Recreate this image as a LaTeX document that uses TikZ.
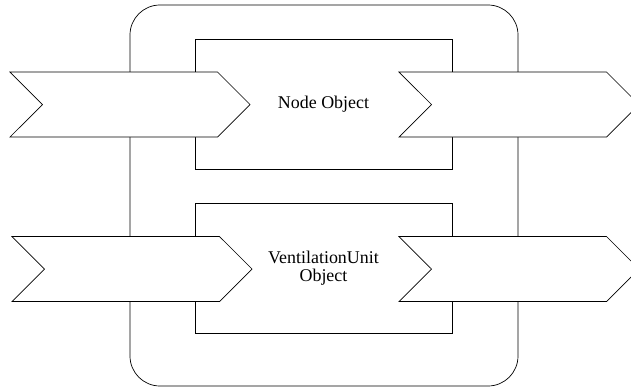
\documentclass[tikz,border=0pt]{standalone}
\usepackage{fontspec}
\setmainfont{Liberation Serif}
\usetikzlibrary{shapes.symbols}

\tikzset{
  holder/.style={draw, rounded corners=6mm, minimum width=77.6mm, minimum height=76.2mm},
  objbox/.style={draw, minimum width=51.4mm, minimum height=26mm, align=center,
    font=\fontsize{10.2}{10.6}\selectfont},
  flow/.style={draw, fill=white, shape=signal, signal from=west, signal to=east,
    inner sep=0pt, minimum width=48mm, minimum height=13mm}
}

\begin{document}
\begin{tikzpicture}[x=0.2mm, y=-0.2mm]
  \useasboundingbox (0,0) rectangle (631,387);
  % container and the two objects
  \node[holder] (unit) at (324,195.5) {};
  \node[objbox] (nodeobj) at (323.5,104) {Node Object};
  \node[objbox] (ventobj) at (323.5,268) {VentilationUnit\\Object};
  % ports
  \foreach \name/\x/\y in {nodein/130/104.5, nodeout/519/104.5, ventin/132/269, ventout/519/269}
    \node[flow] (\name) at (\x,\y) {};
\end{tikzpicture}
\end{document}
